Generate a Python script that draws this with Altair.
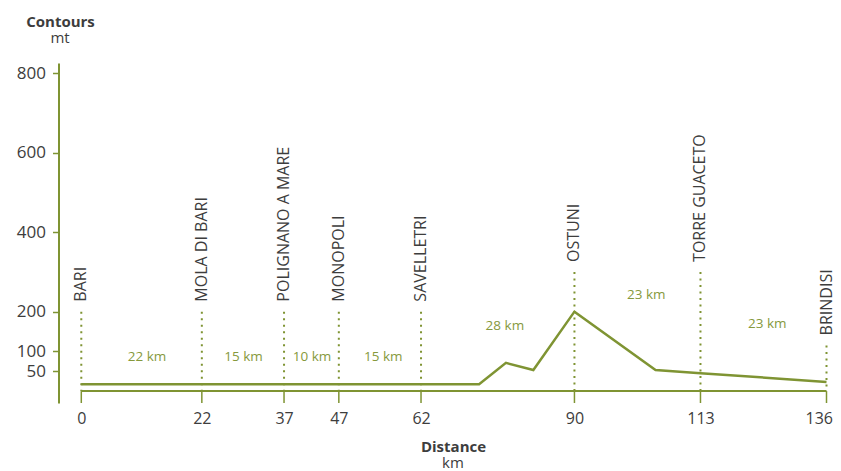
import altair as alt
import pandas as pd

# ---- data ----
stations = ["BARI", "MOLA DI BARI", "POLIGNANO A MARE", "MONOPOLI", "SAVELLETRI",
            "OSTUNI", "TORRE GUACETO", "BRINDISI"]
station_km = [0, 22, 37, 47, 62, 90, 113, 136]
marker_top = [200, 200, 200, 200, 200, 300, 300, 115]

profile_km = [0, 72.6, 77.5, 82.5, 90, 104.8, 113, 136]
profile_elev = [17, 17, 71, 53, 200, 53, 45, 23]

seg_text = ["22 km", "15 km", "10 km", "15 km", "28 km", "23 km", "23 km"]
seg_km = [12.0, 29.6, 42.1, 55.1, 77.3, 103.1, 125.2]
seg_elev = [85, 85, 85, 85, 165, 242, 169]

y_ticks = [50, 100, 200, 400, 600, 800]

GREEN = "#7f9433"
GREEN_TXT = "#86993c"
GRAY = "#3d3d3d"
FONT = "Open Sans"
W, H = 768, 340

st_df = pd.DataFrame({"name": stations, "km": station_km, "top": marker_top,
                      "elev": [0] * len(stations)})
prof_df = pd.DataFrame({"km": profile_km, "elev": profile_elev})
seg_df = pd.DataFrame({"label": seg_text, "km": seg_km, "elev": seg_elev})
base_df = pd.DataFrame({"km": [station_km[0]], "km2": [station_km[-1]], "elev": [0]})


def X(field="km"):
    return alt.X(f"{field}:Q",
                 scale=alt.Scale(domain=[-4.16, 136], nice=False, zero=False),
                 axis=alt.Axis(values=station_km, domain=False, ticks=False, grid=False,
                               labelFont=FONT, labelFontSize=16, labelColor=GRAY,
                               labelPadding=7, labelFlush=1, labelFlushOffset=6,
                               title="Distance", titleFont=FONT, titleFontSize=15,
                               titleFontWeight="bold", titleColor=GRAY,
                               titleAlign="center", titleBaseline="alphabetic",
                               titleX=394.5, titleY=48))


def Y(field="elev"):
    return alt.Y(f"{field}:Q",
                 scale=alt.Scale(domain=[-30, 826], nice=False, zero=False),
                 axis=alt.Axis(values=y_ticks, grid=False,
                               domainColor=GREEN, domainWidth=2,
                               tickColor=GREEN, tickSize=6, tickWidth=1.5,
                               labelFont=FONT, labelFontSize=17, labelColor=GRAY,
                               labelPadding=7, labelFlush=False,
                               title="Contours", titleFont=FONT, titleFontSize=15,
                               titleFontWeight="bold", titleColor=GRAY, titleAngle=0,
                               titleAlign="center", titleBaseline="alphabetic",
                               titleX=1.5, titleY=-37))


profile = alt.Chart(prof_df).mark_line(color=GREEN, strokeWidth=2.5).encode(
    x=X(), y=Y())

baseline = alt.Chart(base_df).mark_rule(color=GREEN, strokeWidth=2).encode(
    x=X(), x2="km2:Q", y=Y())

ticks = alt.Chart(st_df).mark_rule(color=GREEN, strokeWidth=1.5).encode(
    x=X(), y=Y(), y2=alt.value(H))

dotted = alt.Chart(st_df).mark_rule(color=GREEN, strokeWidth=2, strokeDash=[2, 4.5]).encode(
    x=X(), y=Y("top"), y2="elev:Q")

st_labels = alt.Chart(st_df).mark_text(
    angle=270, align="left", baseline="middle", dx=10,
    font=FONT, fontSize=16, color=GRAY).encode(
    x=X(), y=Y("top"), text="name:N")

seg_labels = alt.Chart(seg_df).mark_text(
    align="center", baseline="middle", font=FONT, fontSize=13.5, color=GREEN_TXT).encode(
    x=X(), y=Y(), text="label:N")

unit_df = pd.DataFrame({"u": ["mt"]})
mt = alt.Chart(unit_df).mark_text(align="center", baseline="alphabetic",
                                  font=FONT, fontSize=15, color=GRAY).encode(
    x=alt.value(1.5), y=alt.value(-20), text="u:N")
km_df = pd.DataFrame({"u": ["km"]})
km = alt.Chart(km_df).mark_text(align="center", baseline="alphabetic",
                                font=FONT, fontSize=15, color=GRAY).encode(
    x=alt.value(394.5), y=alt.value(405), text="u:N")

chart = alt.layer(profile, baseline, ticks, dotted, st_labels, seg_labels, mt, km).properties(
    width=W, height=H,
    background="white",
    autosize=alt.AutoSizeParams(type="none"),
    padding={"left": 50.5, "top": 55, "right": 6, "bottom": 70},
).configure_view(stroke=None)

chart.save("out.html", embed_options={"renderer": "svg", "actions": False})
